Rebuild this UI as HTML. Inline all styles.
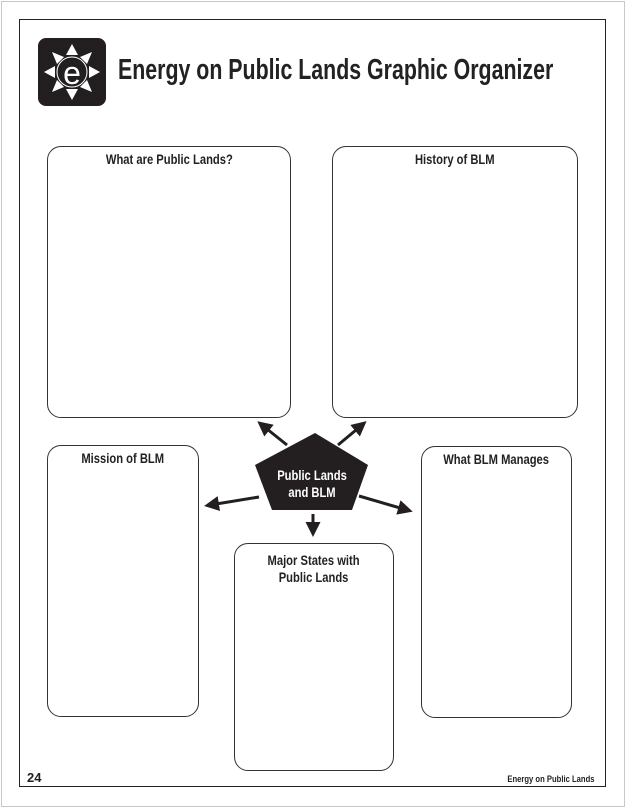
<!DOCTYPE html>
<html><head><meta charset="utf-8"><style>
body{margin:0;width:626px;height:808px;background:#fff;position:relative;overflow:hidden;font-family:"Liberation Sans",sans-serif}
.pg{position:absolute;left:1px;top:1px;width:622px;height:804px;border:1px solid #c8c8c8}
.fr{position:absolute;left:19px;top:19px;width:587px;height:768px;border:1.5px solid #222;box-sizing:border-box}
.b{position:absolute;border:1.2px solid #333;border-radius:14px;box-sizing:border-box;text-align:center;font-weight:bold;font-size:14px;color:#222;padding-top:4px;line-height:17px}
.b span{display:inline-block;transform:scaleX(0.8);white-space:nowrap}
.t{position:absolute;left:118px;top:54px;font-size:29px;font-weight:bold;color:#222;white-space:nowrap;transform:scaleX(0.736);transform-origin:0 0}
</style></head><body>
<div class="pg"></div><div class="fr"></div>
<svg style="position:absolute;left:0;top:0" width="626" height="808">
<rect x="38" y="38" width="68" height="68" rx="8" fill="#231f20"/>
<g fill="#fff" transform="translate(72,72)">
<polygon points="0,-28 6,-17 -6,-17"/><polygon points="0,28 6,17 -6,17"/>
<polygon points="-28,0 -17,6 -17,-6"/><polygon points="28,0 17,6 17,-6"/>
<polygon points="-20,-20 -8,-15 -15,-8"/><polygon points="20,-20 8,-15 15,-8"/>
<polygon points="-20,20 -8,15 -15,8"/><polygon points="20,20 8,15 15,8"/>
<circle r="15" fill="#231f20" stroke="#fff" stroke-width="1"/>
</g>
<text x="72" y="84" text-anchor="middle" font-family="Liberation Sans" font-size="32" fill="#fff">e</text>
<polygon points="315,433 368,465 352,510 272,510 255,465" fill="#231f20"/>
<g transform="translate(312,0) scale(0.8,1)">
<text x="0" y="480" text-anchor="middle" font-family="Liberation Sans" font-weight="bold" font-size="14" fill="#fff">Public Lands</text>
<text x="0" y="497" text-anchor="middle" font-family="Liberation Sans" font-weight="bold" font-size="14" fill="#fff">and BLM</text>
</g>
<defs><marker id="a" markerWidth="6" markerHeight="6" refX="3" refY="3" orient="auto" markerUnits="strokeWidth"><path d="M0,0.5 L5,3 L0,5.5 z" fill="#231f20"/></marker></defs>
<g stroke="#231f20" stroke-width="3" marker-end="url(#a)">
<line x1="287" y1="445" x2="262" y2="425"/>
<line x1="338" y1="445" x2="362" y2="425"/>
<line x1="259" y1="497" x2="210" y2="505"/>
<line x1="359" y1="496" x2="407" y2="510"/>
<line x1="313" y1="514" x2="313" y2="531"/>
</g>
</svg>
<div class="t">Energy on Public Lands Graphic Organizer</div>
<div class="b" style="left:47px;top:146px;width:244px;height:272px"><span>What are Public Lands?</span></div>
<div class="b" style="left:332px;top:146px;width:246px;height:272px"><span>History of BLM</span></div>
<div class="b" style="left:47px;top:445px;width:152px;height:272px"><span>Mission of BLM</span></div>
<div class="b" style="left:421px;top:446px;width:151px;height:272px"><span>What BLM Manages</span></div>
<div class="b" style="left:234px;top:543px;width:160px;height:228px;padding-top:8px"><span>Major States with</span><br><span>Public Lands</span></div>
<div style="position:absolute;left:27px;top:770px;font-weight:bold;font-size:13px;color:#222">24</div>
<div style="position:absolute;right:31px;top:774px;font-weight:bold;font-size:9px;color:#222;transform:scaleX(0.85);transform-origin:100% 0">Energy on Public Lands</div>
</body></html>
